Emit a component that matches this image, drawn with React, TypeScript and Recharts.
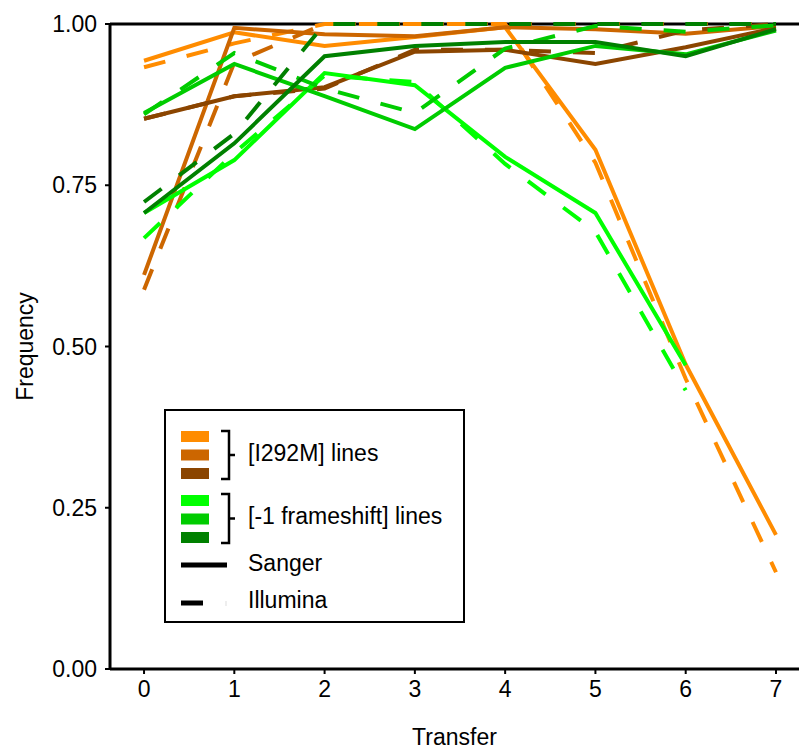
import React from "react";
import {
  LineChart,
  Line,
  XAxis,
  YAxis,
  ReferenceLine,
  Legend,
} from "recharts";

// #region Data
const transfers = [0, 1, 2, 3, 4, 5, 6, 7];
const yTicks = [0, 0.25, 0.5, 0.75, 1];

// [I292M] lines
const i292mA_sanger = [0.943, 0.987, 0.966, 0.98, 0.995, 0.805, 0.472, 0.208];
const i292mA_illumina = [0.933, 0.97, 1.0, 1.0, 1.0, 0.785, 0.45, 0.15];
const i292mB_sanger = [0.611, 0.994, 0.984, 0.981, 0.995, 0.992, 0.985, 0.997];
const i292mB_illumina = [0.588, 0.94, 1.0, 1.0, 1.0, 1.0, 1.0, 1.0];
const i292mC_sanger = [0.853, 0.888, 0.902, 0.957, 0.96, 0.938, 0.964, 0.994];
const i292mC_illumina = [0.853, 0.888, 0.9, 0.96, 0.96, 0.955, 0.99, 1.0];

// [-1 frameshift] lines
const fsA_sanger = [0.707, 0.789, 0.924, 0.905, 0.794, 0.707, 0.471];
const fsA_illumina = [0.668, 0.8, 0.92, 0.91, 0.783, 0.678, 0.432];
const fsB_sanger = [0.862, 0.938, 0.888, 0.837, 0.932, 0.966, 0.953, 0.99];
const fsB_illumina = [0.86, 0.955, 0.9, 0.862, 0.962, 0.997, 0.988, 0.998];
const fsC_sanger = [0.707, 0.815, 0.95, 0.966, 0.972, 0.972, 0.95, 0.992];
const fsC_illumina = [0.724, 0.83, 1.0, 1.0, 1.0, 1.0, 1.0, 1.0];
// #endregion

const ORANGE = ["#FF8C00", "#CC6600", "#8B4500"];
const GREEN = ["#00FF00", "#00CC00", "#008000"];

const series = [
  { key: "i292mA_s", values: i292mA_sanger, color: ORANGE[0], dashed: false },
  { key: "i292mA_i", values: i292mA_illumina, color: ORANGE[0], dashed: true },
  { key: "i292mB_s", values: i292mB_sanger, color: ORANGE[1], dashed: false },
  { key: "i292mB_i", values: i292mB_illumina, color: ORANGE[1], dashed: true },
  { key: "i292mC_s", values: i292mC_sanger, color: ORANGE[2], dashed: false },
  { key: "i292mC_i", values: i292mC_illumina, color: ORANGE[2], dashed: true },
  { key: "fsA_s", values: fsA_sanger, color: GREEN[0], dashed: false },
  { key: "fsA_i", values: fsA_illumina, color: GREEN[0], dashed: true },
  { key: "fsB_s", values: fsB_sanger, color: GREEN[1], dashed: false },
  { key: "fsB_i", values: fsB_illumina, color: GREEN[1], dashed: true },
  { key: "fsC_s", values: fsC_sanger, color: GREEN[2], dashed: false },
  { key: "fsC_i", values: fsC_illumina, color: GREEN[2], dashed: true },
];

const data = transfers.map((t, i) => {
  const row: Record<string, number> = { transfer: t };
  series.forEach((s) => {
    if (s.values[i] !== undefined) row[s.key] = s.values[i];
  });
  return row;
});

const FONT = "'Liberation Sans', Arial, sans-serif";
const FS = 23;

function Bracket({ top, bottom }: { top: number; bottom: number }) {
  const mid = (top + bottom) / 2;
  return (
    <path
      d={`M57 ${top} H65 V${bottom} H57 M65 ${mid} H71`}
      fill="none"
      stroke="#000"
      strokeWidth={2.5}
    />
  );
}

function LegendBox() {
  const txt = { fontSize: FS, fontFamily: FONT, fill: "#000" };
  return (
    <svg width={301} height={214} style={{ display: "block" }}>
      <rect x={1} y={1} width={299} height={212} fill="#fff" stroke="#000" strokeWidth={2} />
      {ORANGE.map((c, i) => (
        <rect key={c} x={17} y={22 + i * 18.5} width={28} height={11} fill={c} />
      ))}
      <Bracket top={22} bottom={70} />
      <text x={84} y={44} dy="0.36em" {...txt}>
        [I292M] lines
      </text>
      {GREEN.map((c, i) => (
        <rect key={c} x={17} y={86 + i * 18.5} width={28} height={11} fill={c} />
      ))}
      <Bracket top={85} bottom={134} />
      <text x={84} y={107} dy="0.36em" {...txt}>
        [-1 frameshift] lines
      </text>
      <line x1={17} x2={63} y1={156} y2={156} stroke="#000" strokeWidth={5} />
      <text x={84} y={154} dy="0.36em" {...txt}>
        Sanger
      </text>
      <line x1={17} x2={39} y1={194} y2={194} stroke="#000" strokeWidth={5} />
      <line x1={62} x2={62} y1={192} y2={197} stroke="#ddd" strokeWidth={1} />
      <text x={84} y={191} dy="0.36em" {...txt}>
        Illumina
      </text>
    </svg>
  );
}

export default function App() {
  return (
    <div style={{ position: "absolute", left: 0, top: 0 }}>
      <LineChart
        width={799}
        height={751}
        data={data}
        margin={{ top: 24, right: 0, bottom: 22, left: 0 }}
        style={{ fontFamily: FONT }}
      >
        <XAxis
          dataKey="transfer"
          type="number"
          domain={[-0.377, 7.255]}
          ticks={transfers}
          height={60}
          axisLine={{ stroke: "#000", strokeWidth: 3 }}
          tickLine={{ stroke: "#000", strokeWidth: 2 }}
          tickSize={5}
          tickMargin={7}
          tick={{ fill: "#000", fontSize: FS }}
          label={{
            value: "Transfer",
            position: "bottom",
            offset: 0,
            fill: "#000",
            fontSize: FS,
          }}
        />
        <YAxis
          type="number"
          domain={[0, 1]}
          ticks={yTicks}
          width={110}
          axisLine={{ stroke: "#000", strokeWidth: 3 }}
          tickLine={{ stroke: "#000", strokeWidth: 2 }}
          tickSize={5}
          tickMargin={8}
          tickFormatter={(v: number) => v.toFixed(2)}
          tick={{ fill: "#000", fontSize: FS }}
          label={{
            value: "Frequency",
            angle: -90,
            position: "insideLeft",
            offset: 25,
            fill: "#000",
            fontSize: FS,
            style: { textAnchor: "middle" },
          }}
        />
        <ReferenceLine y={1} stroke="#000" strokeWidth={3} />
        {series.map((s) => (
          <Line
            key={s.key}
            dataKey={s.key}
            type="linear"
            stroke={s.color}
            strokeWidth={4}
            strokeDasharray={s.dashed ? "22 22" : undefined}
            dot={false}
            activeDot={false}
            isAnimationActive={false}
          />
        ))}
        <Legend
          layout="horizontal"
          verticalAlign="middle"
          align="center"
          wrapperStyle={{ left: 164, top: 409, width: 301, height: 214 }}
          content={() => <LegendBox />}
        />
      </LineChart>
    </div>
  );
}
